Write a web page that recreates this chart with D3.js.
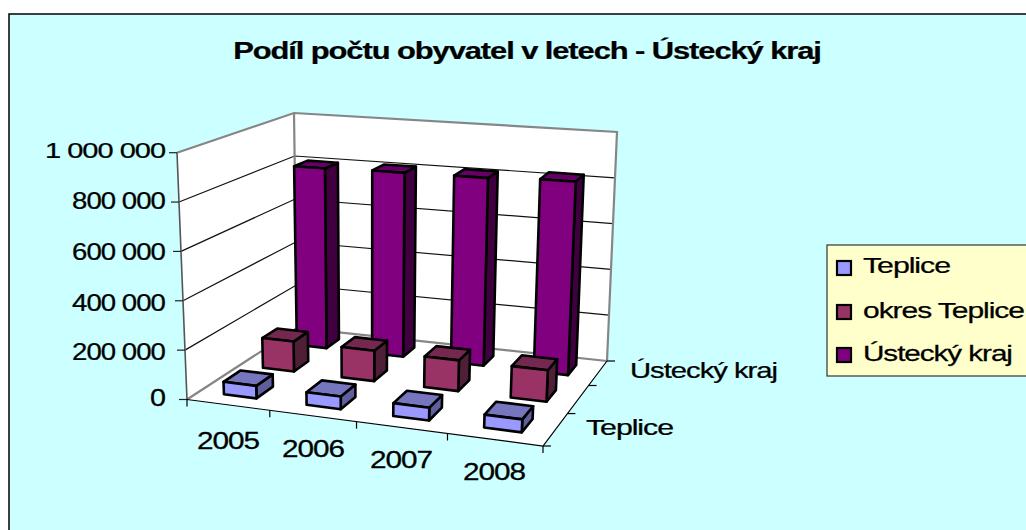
<!DOCTYPE html>
<html><head><meta charset="utf-8">
<script src="https://cdn.jsdelivr.net/npm/d3@7"></script>
<style>html,body{margin:0;padding:0;background:#fff}svg{display:block}text{font-family:"Liberation Sans",Arial,sans-serif;fill:#000;stroke:#000;stroke-width:.25px}</style>
</head><body><svg id="c" width="1026" height="530"></svg>
<script>
const years = ["2005","2006","2007","2008"];
const seriesNames = ["Teplice","okres Teplice","Ústecký kraj"];
const teplice = [51000,51000,51000,51000];
const okresTeplice = [128000,128000,128000,129000];
const usteckyKraj = [803000,810000,814000,826000];
const valueTicks = [0,200000,400000,600000,800000,1000000];
const tickLabels = ["0","200 000","400 000","600 000","800 000","1 000 000"];
const depthLabels = ["Teplice","Ústecký kraj"];
const seriesValues = [teplice,okresTeplice,usteckyKraj];

const svg = d3.select("#c");
const colors = {front:["#9999FF","#993366","#800080"],top:["#7676BE","#75284F","#660066"],side:["#5F5F9F","#4F1F38","#400040"]};
// projected box corners [u][v][w]
const corners=[[[[187,399.5],[177,152.7]],[[297,328],[294,113]]],[[[543,446],[556,186]],[[607,361],[617,132]]]];
const warp=(t,k)=>t/(t+k*(1-t));
function P(u0,v0,w){
  const u=warp(u0,1.1), v=warp(v0,0.81);
  const out=[0,0];
  for(let i=0;i<2;i++)for(let j=0;j<2;j++)for(let k=0;k<2;k++){
    const f=(i?u:1-u)*(j?v:1-v)*(k?w:1-w);
    out[0]+=f*corners[i][j][k][0]; out[1]+=f*corners[i][j][k][1];
  }
  return out;
}
const uBand = d3.scaleBand().domain(years).range([0,1]).paddingInner(0.6).paddingOuter(0.3);
const vBand = d3.scaleBand().domain(seriesNames).range([0,1]).paddingInner(0.58).paddingOuter(0.29);
const wScale = d3.scaleLinear().domain([0,1000000]).range([0,1]);
const line = d3.line();
const poly = pts => line(pts)+"Z";

// chart area
svg.append("rect").attr("x",9).attr("y",14).attr("width",1030).attr("height",530).attr("fill","#CCFFFF").attr("stroke","#000").attr("stroke-width",1.5);

// walls and floor
const walls = [
 [P(0,0,0),P(0,1,0),P(0,1,1),P(0,0,1)],
 [P(0,1,0),P(1,1,0),P(1,1,1),P(0,1,1)],
 [P(0,0,0),P(1,0,0),P(1,1,0),P(0,1,0)]
];
svg.selectAll(".wall").data(walls).join("path").attr("class","wall").attr("d",poly).attr("fill","#fff");
// gridlines
valueTicks.slice(1,-1).forEach(t=>{
  const w=wScale(t);
  svg.append("path").attr("d",line([P(0,0,w),P(0,1,w),P(1,1,w)])).attr("fill","none").attr("stroke","#111").attr("stroke-width",1.2);
});
// gray wall outline
[[P(0,0,1),P(0,1,1),P(1,1,1),P(1,1,0)],[P(0,1,1),P(0,1,0)],[P(0,0,0),P(0,1,0),P(1,1,0)]].forEach(s=>{
  svg.append("path").attr("d",line(s)).attr("fill","none").attr("stroke","#868686").attr("stroke-width",2.2);
});
// axes
svg.append("path").attr("d",line([P(0,0,1),P(0,0,0)])).attr("fill","none").attr("stroke","#555").attr("stroke-width",1.6);
svg.append("path").attr("d",line([P(0,0,0),P(1,0,0),P(1,1,0)])).attr("fill","none").attr("stroke","#000").attr("stroke-width",1.2);
valueTicks.forEach(t=>{const p=P(0,0,wScale(t));
  svg.append("line").attr("x1",p[0]-8).attr("x2",p[0]).attr("y1",p[1]).attr("y2",p[1]).attr("stroke","#222").attr("stroke-width",1.2);});
d3.range(0,years.length+1).forEach(i=>{const p=P(i/years.length,0,0);
  svg.append("line").attr("x1",p[0]).attr("x2",p[0]).attr("y1",p[1]).attr("y2",p[1]+7).attr("stroke","#000").attr("stroke-width",1.2);});
d3.range(0,seriesNames.length+1).forEach(j=>{const p=P(1,j/seriesNames.length,0);
  svg.append("line").attr("x1",p[0]).attr("x2",p[0]+8).attr("y1",p[1]).attr("y2",p[1]).attr("stroke","#000").attr("stroke-width",1.2);});

// bars, back to front
for(let s=seriesNames.length-1;s>=0;s--){
  years.forEach((y,i)=>{
    const u0=uBand(y),u1=u0+uBand.bandwidth(),v0=vBand(seriesNames[s]),v1=v0+vBand.bandwidth(),h=wScale(seriesValues[s][i]);
    const g=svg.append("g").attr("stroke","#000").attr("stroke-width",2.6).attr("stroke-linejoin","round");
    g.append("path").attr("d",poly([P(u1,v0,0),P(u1,v1,0),P(u1,v1,h),P(u1,v0,h)])).attr("fill",colors.side[s]);
    g.append("path").attr("d",poly([P(u0,v0,h),P(u1,v0,h),P(u1,v1,h),P(u0,v1,h)])).attr("fill",colors.top[s]);
    g.append("path").attr("d",poly([P(u0,v0,0),P(u1,v0,0),P(u1,v0,h),P(u0,v0,h)])).attr("fill",colors.front[s]);
  });
}

// text stretched horizontally to measured widths, with tight tracking
function label(txt,x,y,size,width,anchor,bold){
  const t=svg.append("text").attr("font-size",size).attr("text-anchor",anchor||"start").attr("dominant-baseline","central")
    .attr("letter-spacing",-0.035*size).text(txt);
  if(bold)t.attr("font-weight","bold");
  const sx=width/t.node().getComputedTextLength();
  t.attr("transform",`translate(${x},${y}) scale(${sx},1)`);
  return t;
}
label("Podíl počtu obyvatel v letech - Ústecký kraj",527,51,24,588,"middle",true);
const tickY=[398,352,303,252,201,150], tickW=[15,93,93,93,93,120];
tickLabels.forEach((l,i)=>label(l,165,tickY[i],23,tickW[i],"end"));
const catX=[228,313,401,494],catY=[441,449,460,472];
years.forEach((y,i)=>label(y,catX[i],catY[i],23,62,"middle"));
label(depthLabels[0],586,428,22,87);
label(depthLabels[1],630,370,22,147);

// legend
svg.append("rect").attr("x",827).attr("y",245).attr("width",210).attr("height",131).attr("fill","#FFFFCC").attr("stroke","#333").attr("stroke-width",1.2);
const legY=[268,312,355],legW=[87,161,149];
seriesNames.forEach((n,i)=>{
  svg.append("rect").attr("x",837).attr("y",legY[i]-7).attr("width",14).attr("height",14).attr("fill",colors.front[i]).attr("stroke","#000").attr("stroke-width",2.2);
  label(n,863,legY[i]-2,22,legW[i]);
});
</script></body></html>
